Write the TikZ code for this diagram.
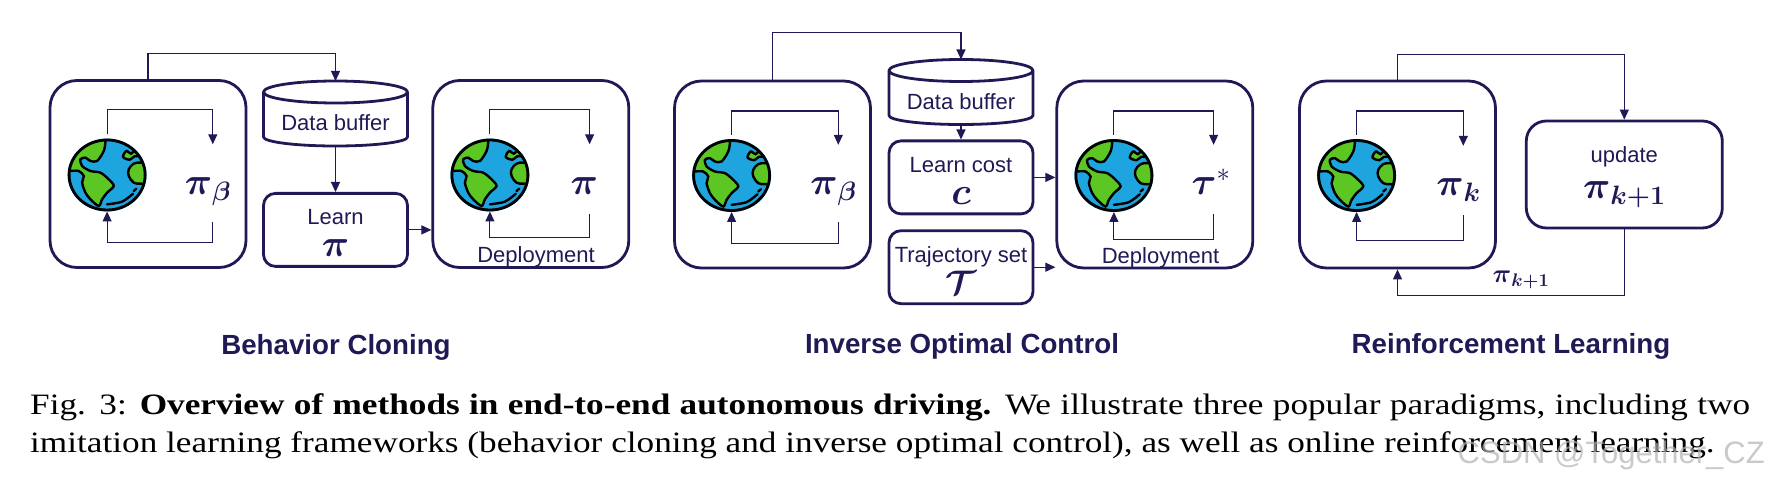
\documentclass[tikz,border=0pt]{standalone}
\usepackage{fix-cm}
\usepackage{amsmath}
\usepackage{fontspec}
\setmainfont{Liberation Sans}
\newfontfamily\capfont[FakeStretch=1.19]{Liberation Serif}
\usetikzlibrary{shapes.geometric, arrows.meta, positioning}
\definecolor{navy}{HTML}{1F1A56}
\definecolor{oceanblue}{HTML}{1EA5E0}
\definecolor{landgreen}{HTML}{5CC622}
\newcommand{\polsym}[2][38]{{\fontsize{#1}{#1}\selectfont$#2$}}
\newcommand{\toprow}{\rule{0pt}{22pt}}
\tikzset{
    panel/.style={
        rectangle, draw=navy, line width=2.8pt, rounded corners=27pt,
        minimum width=196pt, minimum height=187pt, inner sep=0pt
    },
    box/.style={
        rectangle, draw=navy, line width=2.8pt, rounded corners=12pt,
        minimum width=144pt, minimum height=73pt, inner sep=0pt,
        align=center, text=navy, font=\fontsize{22}{32}\selectfont
    },
    buffer/.style={
        rectangle, minimum width=144pt, minimum height=65pt, inner sep=0pt, outer sep=0pt
    },
    drum/.style={draw=navy, line width=2.8pt, line join=round},
    globe/.style={
        ellipse, fill=oceanblue, inner sep=0pt, outer sep=0pt,
        minimum width=79pt, minimum height=73pt
    },
    earth/.pic={
        \node[globe] (-body) at (0,0) {};
        \begin{scope}
            \clip (0,0) ellipse [x radius=38pt, y radius=35pt];
            \begin{scope}[xshift=-53.33pt, yshift=50.67pt, scale=0.3333, line width=2.4pt]
                \path[fill=landgreen, draw=black] (20,20) -- (20,140) -- plot[smooth, tension=.5] coordinates
                    {(50,140)(75,140)(90,155)(85,175)(95,205)(110,225)(135,245)(145,225)(160,205)(180,185)(165,165)(140,145)(110,140)(85,125)(80,105)(95,100)(110,110)(130,110)(150,80)(155,50)(152,20)} -- cycle;
                \path[fill=landgreen, draw=black] plot[smooth cycle, tension=.6] coordinates
                    {(225,135)(240,118)(262,115)(300,120)(300,175)(262,178)(240,175)(225,155)};
                \path[fill=landgreen, draw=black] plot[smooth cycle, tension=.6] coordinates
                    {(208,98)(218,80)(232,88)(250,72)(275,85)(262,95)(242,96)(228,106)};
                \draw[black, line cap=round] plot[smooth] coordinates {(160,240)(205,232)(238,208)};
                \draw[black, line cap=round] (240,200) -- (248,193);
            \end{scope}
        \end{scope}
        \draw[black, line width=2.8pt] (0,0) ellipse [x radius=38pt, y radius=35pt];
    },
    policy/.style={
        inner sep=0pt, text height=50pt, text depth=23pt, align=left, text=navy
    },
    plain/.style={text=navy, font=\fontsize{22}{26}\selectfont, inner sep=0pt},
    heading/.style={text=navy, font=\fontsize{27.7}{32}\selectfont\bfseries, inner sep=0pt},
    link/.style={-{Triangle[length=10pt, width=9pt]}, line width=1.1pt, draw=navy},
    loopline/.style={link, shorten <=4pt}
}
\begin{document}
\begin{tikzpicture}[x=1pt, y=-1pt]
\useasboundingbox (0,0) rectangle (1770,478);

% -- Behavior Cloning ---------------------------------------------------------
\node[panel] (bcBehavior) at (148,174) {};
\pic[xshift=58.5pt, yshift=-1pt] (bcEarthA) at (bcBehavior.west) {earth};
\node[policy, text width=56pt, right=38pt of bcEarthA-body, yshift=-6pt] (bcPolA)
    {\polsym{\boldsymbol{\pi}_{\boldsymbol{\beta}}}};
\node[buffer] (bcBuffer) at (335.5,113.5) {};
\draw[drum] ([yshift=-11pt]bcBuffer.north west) arc[start angle=180, end angle=540, x radius=72pt, y radius=11pt]
    -- ([yshift=9pt]bcBuffer.south west) arc[start angle=180, end angle=360, x radius=72pt, y radius=9pt]
    -- ([yshift=-11pt]bcBuffer.north east);
\node[plain] (bcBufferText) at (335.5,123) {Data buffer};
\node[box, below=46pt of bcBuffer] (bcLearn) {\toprow Learn\\\polsym{\boldsymbol{\pi}}};
\node[panel, right=184pt of bcBehavior] (bcDeploy) {};
\pic[xshift=58.5pt, yshift=-1pt] (bcEarthB) at (bcDeploy.west) {earth};
\node[policy, text width=38pt, text depth=19pt, right=41pt of bcEarthB-body, yshift=-4pt] (bcPolB)
    {\polsym{\boldsymbol{\pi}}};
\node[plain] (bcDeployText) at (536,257) {Deployment};
\node[heading] (bcTitle) at (336,347) {Behavior Cloning};

\draw[link] (bcBehavior.north) -- ++(0,-26) -| (bcBuffer.north);
\draw[link] (bcBuffer.south) -- (bcLearn.north);
\draw[link] (bcLearn.east) -- (bcLearn.east -| bcDeploy.west);
\draw[loopline] (bcEarthA-body.north) -- ++(0,-29) -| (bcPolA.north);
\draw[loopline] (bcPolA.south) -- ++(0,25) -| (bcEarthA-body.south);
\draw[loopline] (bcEarthB-body.north) -- ++(0,-29) -| (bcPolB.north);
\draw[link] (bcPolB.south) -- ++(0,24) -| (bcEarthB-body.south);

% -- Inverse Optimal Control --------------------------------------------------
\node[panel] (iocBehavior) at (772.5,174.5) {};
\pic[xshift=58.5pt, yshift=-1pt] (iocEarthA) at (iocBehavior.west) {earth};
\node[policy, text width=56pt, right=39pt of iocEarthA-body, yshift=-6pt] (iocPolA)
    {\polsym{\boldsymbol{\pi}_{\boldsymbol{\beta}}}};
\node[buffer] (iocBuffer) at (961,92) {};
\draw[drum] ([yshift=-11pt]iocBuffer.north west) arc[start angle=180, end angle=540, x radius=72pt, y radius=11pt]
    -- ([yshift=9pt]iocBuffer.south west) arc[start angle=180, end angle=360, x radius=72pt, y radius=9pt]
    -- ([yshift=-11pt]iocBuffer.north east);
\node[plain] (iocBufferText) at (961,102) {Data buffer};
\node[box, below=15pt of iocBuffer] (iocLearn) {\toprow Learn cost\\\polsym{\boldsymbol{c}}};
\node[box, below=14pt of iocLearn] (iocTraj) {\toprow Trajectory set\\\polsym[34]{\boldsymbol{\mathcal{T}}}};
\node[panel, right=183.5pt of iocBehavior] (iocDeploy) {};
\pic[xshift=58.5pt, yshift=-1pt] (iocEarthB) at (iocDeploy.west) {earth};
\node[policy, text width=44pt, text depth=19pt, right=38pt of iocEarthB-body, yshift=-4pt] (iocPolB)
    {\polsym{\boldsymbol{\tau}^{*}}};
\node[plain] (iocDeployText) at (1160.5,258) {Deployment};
\node[heading] (iocTitle) at (962,346) {Inverse Optimal Control};

\draw[link] (iocBehavior.north) -- ++(0,-47) -| (iocBuffer.north);
\draw[link] (iocBuffer.south) -- (iocLearn.north);
\draw[link] (iocLearn.east) -- (iocLearn.east -| iocDeploy.west);
\draw[link] (iocTraj.east) -- (iocTraj.east -| iocDeploy.west);
\draw[loopline] (iocEarthA-body.north) -- ++(0,-28) -| (iocPolA.north);
\draw[loopline] (iocPolA.south) -- ++(0,25) -| (iocEarthA-body.south);
\draw[loopline] (iocEarthB-body.north) -- ++(0,-28) -| (iocPolB.north);
\draw[link] (iocPolB.south) -- ++(0,25) -| (iocEarthB-body.south);

% -- Reinforcement Learning ---------------------------------------------------
\node[panel] (rlBehavior) at (1397.5,174.5) {};
\pic[xshift=58.5pt, yshift=-1pt] (rlEarth) at (rlBehavior.west) {earth};
\node[policy, text width=54pt, text depth=19pt, right=40pt of rlEarth-body, yshift=-5pt] (rlPol)
    {\polsym{\boldsymbol{\pi}_{\boldsymbol{k}}}};
\node[box, minimum width=196pt, minimum height=107pt, rounded corners=20pt, right=28pt of rlBehavior.north east, anchor=north west, yshift=-40pt] (rlUpdate)
    {\toprow update\\[4pt]\polsym{\boldsymbol{\pi}_{\boldsymbol{k+1}}}};
\node[text=navy, inner sep=0pt] (rlNext) at (1521,280) {\polsym[26]{\boldsymbol{\pi}_{\boldsymbol{k+1}}}};
\node[heading] (rlTitle) at (1511,346) {Reinforcement Learning};

\draw[link] (rlBehavior.north) -- ++(0,-25) -| (rlUpdate.north);
\draw[link] (rlUpdate.south) -- ++(0,66) -| (rlBehavior.south);
\draw[loopline] (rlEarth-body.north) -- ++(0,-28) -| (rlPol.north);
\draw[link] (rlPol.south) -- ++(0,25) -| (rlEarth-body.south);

% -- Caption ------------------------------------------------------------------
\node[anchor=north west, inner sep=0pt, text width=1720pt, align=justify,
      font=\capfont\fontsize{29.6}{38}\selectfont] (figCaption) at (30,393)
    {Fig. 3: \textbf{Overview of methods in end-to-end autonomous driving.} We illustrate three popular paradigms, including two\linebreak
     imitation learning frameworks (behavior cloning and inverse optimal control), as well as online reinforcement learning.};
\node[anchor=east, inner sep=0pt, text=black!30, opacity=.7, font=\fontsize{31}{34}\selectfont] (figMark) at (1765,455)
    {CSDN @Together\_CZ};

\end{tikzpicture}
\end{document}
